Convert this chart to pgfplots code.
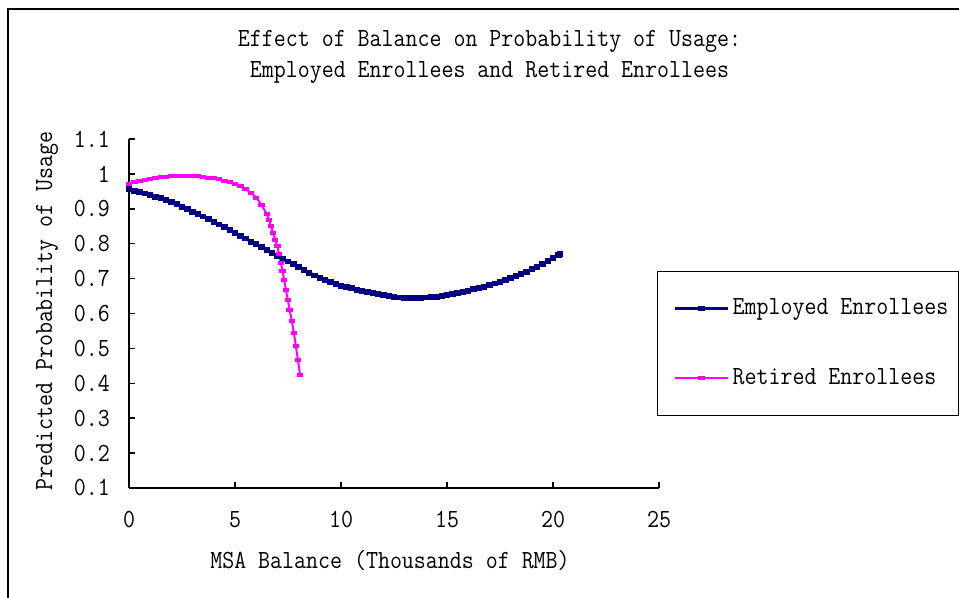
\documentclass[border=0pt]{standalone}
\usepackage{pgfplots}
\pgfplotsset{compat=1.18}
\usepackage{fontspec}
\newfontfamily\cf{Latin Modern Mono}[FakeStretch=0.89]
\newcommand\cfs{\cf\fontsize{19.6pt}{23.25pt}\selectfont}
\definecolor{navy}{RGB}{0,0,128}
\definecolor{mag}{RGB}{255,0,255}
\begin{document}
\begin{tikzpicture}
\useasboundingbox (0,0) rectangle (719.25pt,447.75pt);
\draw[line width=1.5pt] (6.2pt,-20pt) -- (6.2pt,441pt) -- (740pt,441pt);
\node[font=\cfs, align=center] at (367.1pt,405.4pt) {Effect of Balance on Probability of Usage:\\Employed Enrollees and Retired Enrollees};
\node[font=\cfs] at (292.5pt,27pt) {MSA Balance (Thousands of RMB)};
\node[font=\cfs, rotate=90] at (35.25pt,214.5pt) {Predicted Probability of Usage};
\begin{axis}[
  at={(96.75pt,81.75pt)}, anchor=south west,
  scale only axis, width=397.5pt, height=261.75pt,
  xmin=0, xmax=25, ymin=0.1, ymax=1.1,
  axis lines*=left,
  axis line style={line width=1.1pt},
  xtick={0,5,10,15,20,25}, xticklabels={0,5,10,15,20,25},
  ytick={0.1,0.2,0.3,0.4,0.5,0.6,0.7,0.8,0.9,1,1.1},
  yticklabels={0.1,0.2,0.3,0.4,0.5,0.6,0.7,0.8,0.9,1,1.1},
  tick align=inside, major tick length=4.5pt,
  tick style={black, line width=1.1pt},
  ticklabel style={font=\cfs},
  xticklabel style={yshift=-14pt},
  yticklabel style={xshift=-10.8pt},
  legend style={at={(0.9957,0.6226)}, anchor=north west, draw=black, line width=1.1pt,
    fill=white, font=\cfs, inner xsep=7.5pt, inner ysep=20pt, row sep=37pt,
    nodes={inner sep=0pt, text height=12pt, text depth=3.5pt}},
  legend cell align=left,
  legend image code/.code={\path (-4.5pt,0pt) (42.2pt,0pt);\draw[mark repeat=2,mark phase=2,#1] plot coordinates {(0pt,0pt) (20pt,0pt) (40pt,0pt)};},
]
\addplot[navy, line width=2.2pt, mark=-, mark size=2.4pt, mark options={line width=4.4pt, solid}] coordinates {
(0.00,0.956)(0.25,0.952)(0.50,0.948)(0.75,0.944)(1.00,0.939)(1.25,0.935)(1.50,0.930)(1.75,0.925)
(2.00,0.919)(2.25,0.913)(2.50,0.906)(2.75,0.899)(3.00,0.892)(3.25,0.885)(3.50,0.878)(3.75,0.870)
(4.00,0.863)(4.25,0.855)(4.50,0.847)(4.75,0.839)(5.00,0.831)(5.25,0.823)(5.50,0.815)(5.75,0.806)
(6.00,0.798)(6.25,0.790)(6.50,0.782)(6.75,0.774)(7.00,0.765)(7.25,0.757)(7.50,0.749)(7.75,0.741)
(8.00,0.733)(8.25,0.725)(8.50,0.717)(8.75,0.709)(9.00,0.702)(9.25,0.696)(9.50,0.690)(9.75,0.685)
(10.00,0.680)(10.25,0.676)(10.50,0.672)(10.75,0.668)(11.00,0.665)(11.25,0.661)(11.50,0.658)(11.75,0.655)
(12.00,0.652)(12.25,0.649)(12.50,0.647)(12.75,0.646)(13.00,0.645)(13.25,0.645)(13.50,0.645)(13.75,0.645)
(14.00,0.646)(14.25,0.647)(14.50,0.648)(14.75,0.650)(15.00,0.652)(15.25,0.655)(15.50,0.658)(15.75,0.661)
(16.00,0.665)(16.25,0.669)(16.50,0.673)(16.75,0.677)(17.00,0.682)(17.25,0.686)(17.50,0.691)(17.75,0.696)
(18.00,0.701)(18.25,0.707)(18.50,0.713)(18.75,0.720)(19.00,0.727)(19.25,0.734)(19.50,0.742)(19.75,0.750)
(20.00,0.759)(20.25,0.768)(20.33,0.771)
};
\addlegendentry{Employed Enrollees}
\addplot[mag, line width=1.5pt, mark=-, mark size=2.4pt, mark options={line width=3pt, solid}] coordinates {
(0.00,0.972)(0.25,0.976)(0.50,0.980)(0.75,0.983)(1.00,0.986)(1.25,0.988)(1.50,0.990)(1.75,0.992)
(2.00,0.994)(2.25,0.995)(2.50,0.995)(2.75,0.995)(3.00,0.995)(3.25,0.993)(3.50,0.991)(3.75,0.989)
(4.00,0.987)(4.25,0.984)(4.50,0.981)(4.75,0.977)(5.00,0.972)(5.25,0.965)(5.50,0.957)(5.75,0.946)
(6.00,0.932)(6.25,0.912)(6.50,0.884)(6.60,0.868)(6.70,0.850)(6.80,0.830)(6.90,0.810)(7.00,0.792)
(7.08,0.770)(7.16,0.746)(7.24,0.722)(7.32,0.696)(7.40,0.668)(7.49,0.640)(7.58,0.610)(7.68,0.578)
(7.78,0.544)(7.87,0.506)(7.97,0.466)(8.07,0.424)
};
\addlegendentry{Retired Enrollees}
\end{axis}
\end{tikzpicture}
\end{document}
